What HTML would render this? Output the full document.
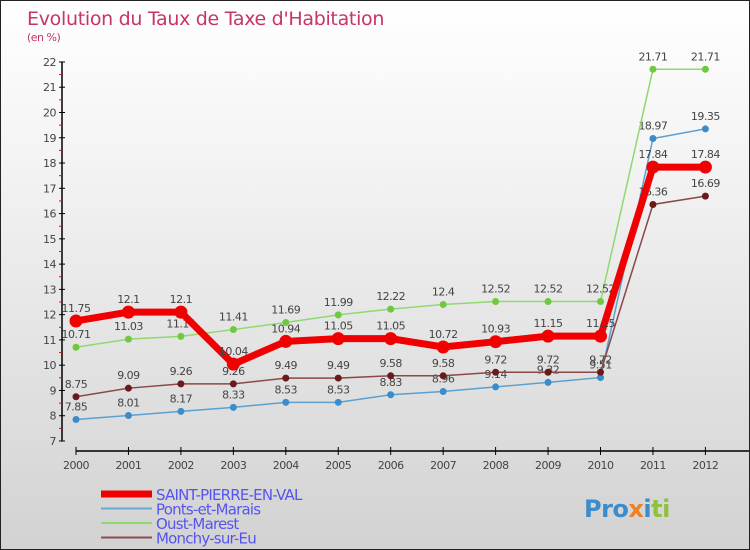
<!DOCTYPE html>
<html><head><meta charset="utf-8"><style>
body{margin:0}
#c{position:relative;width:748px;height:548px;border:1px solid #222;background:linear-gradient(#fff,#f3f3f3 30%,#d2d2d2);font-family:"DejaVu Sans","Liberation Sans",sans-serif;overflow:hidden}
</style></head><body>
<div id="c">
<svg id="s" width="748" height="548" style="position:absolute;left:0;top:0"></svg>
</div>
<script>
const years=["2000","2001","2002","2003","2004","2005","2006","2007","2008","2009","2010","2011","2012"];
const yTicks=[7,8,9,10,11,12,13,14,15,16,17,18,19,20,21,22];
const saint=[11.75,12.1,12.1,10.04,10.94,11.05,11.05,10.72,10.93,11.15,11.15,17.84,17.84];
const ponts=[7.85,8.01,8.17,8.33,8.53,8.53,8.83,8.96,9.14,9.32,9.51,18.97,19.35];
const oust=[10.71,11.03,11.14,11.41,11.69,11.99,12.22,12.4,12.52,12.52,12.52,21.71,21.71];
const monchy=[8.75,9.09,9.26,9.26,9.49,9.49,9.58,9.58,9.72,9.72,9.72,16.36,16.69];
const NS="http://www.w3.org/2000/svg",s=document.getElementById('s');
function X(i){return 75+i*52.45}
function Y(v){return 440-(v-7)*25.27}
function mk(t,a,p){const e=document.createElementNS(NS,t);for(const k in a)e.setAttribute(k,a[k]);(p||s).appendChild(e);return e}
function tx(x,y,str,a){const e=mk('text',Object.assign({x:x,y:y,'font-size':11,fill:'#444','letter-spacing':'-0.5'},a||{}));e.textContent=str;return e}
let t=tx(26,24,"Evolution du Taux de Taxe d'Habitation",{'font-size':19,fill:'#c8336a','letter-spacing':'-0.3'});


t=tx(26,40,"(en %)",{'font-size':11,fill:'#c8336a'});


let ax=mk('line',{x1:61,y1:Y(22),x2:61,y2:Y(7),stroke:'#000','stroke-width':1.5});


ax=mk('line',{x1:75,y1:450,x2:748,y2:450,stroke:'#000','stroke-width':1.5});


yTicks.forEach(v=>{mk('line',{x1:58,x2:64,y1:Y(v),y2:Y(v),stroke:'#000'});
 if(v<22)mk('line',{x1:58,x2:61,y1:Y(v+0.5),y2:Y(v+0.5),stroke:'#f00'});
 const l=tx(55,Y(v)+4,String(v),{'text-anchor':'end'});
 
 });
years.forEach((y,i)=>{mk('line',{x1:X(i),x2:X(i),y1:446,y2:454,stroke:'#000'});
 const l=tx(X(i),468,y,{'text-anchor':'middle'});
 
 });
function series(d,col,dot,w,r,name,lab){
 const g=mk('g',{});
 
 
 mk('polyline',{points:d.map((v,i)=>X(i)+','+Y(v)).join(' '),fill:'none',stroke:col,'stroke-width':w},g);
 d.forEach((v,i)=>{const c=mk('circle',{cx:X(i),cy:Y(v),r:r,fill:dot},g);
  
  
  if(lab){const l=tx(X(i),Y(v)-9,String(v),{'text-anchor':'middle'},g);
  
  }});
}
series(ponts,'#5ca0d0','#3a8ccc',1.5,3.5,'ponts-series',true);
series(monchy,'#8a4848','#6a1a1a',1.5,3.5,'monchy-series',true);
series(oust,'#90d870','#70c840',1.5,3.5,'oust-series',true);
series(saint,'#f00000','#f00000',7,6.5,'saint-series',true);
const leg=[["SAINT-PIERRE-EN-VAL","#f00000",7],["Ponts-et-Marais","#6aa8d0",2],["Oust-Marest","#90d870",2],["Monchy-sur-Eu","#8a5050",2]];
leg.forEach((l,i)=>{const y=493+i*14.5;
 mk('line',{x1:100,x2:151,y1:y,y2:y,stroke:l[1],'stroke-width':l[2]});
 const e=tx(155,y+6,l[0],{'font-size':15,fill:'#5555ee','letter-spacing':'-0.8'});
 
 });
const p=tx(583,516,"Pro",{'font-size':24,'font-weight':'bold',fill:'#3a8ccc'});


mk('tspan',{fill:'#f08020'},p).textContent="x";
mk('tspan',{fill:'#3a8ccc'},p).textContent="i";
mk('tspan',{fill:'#90c040'},p).textContent="ti";
</script>
</body></html>
